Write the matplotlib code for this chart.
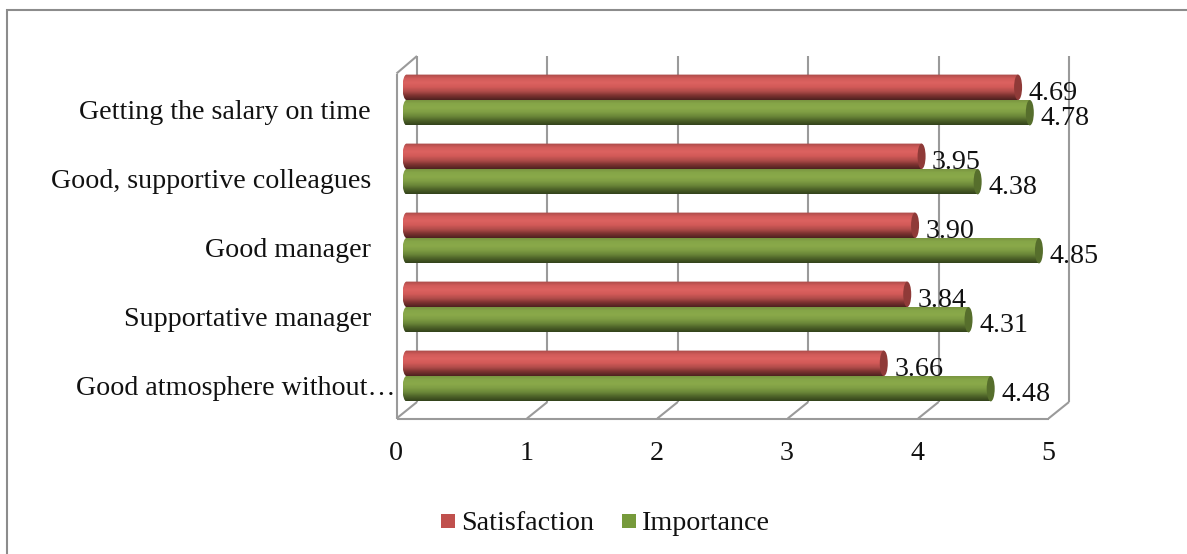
import numpy as np
import matplotlib
matplotlib.use("Agg")
import matplotlib.pyplot as plt
from matplotlib.colors import LinearSegmentedColormap
from matplotlib.patches import Ellipse, Rectangle, PathPatch
from matplotlib.path import Path

W, H = 1187, 554
DPI = 100

categories = ["Good atmosphere without\u2026", "Supportative manager", "Good manager",
              "Good, supportive colleagues", "Getting the salary on time"]
satisfaction = [3.66, 3.84, 3.90, 3.95, 4.69]
importance = [4.48, 4.31, 4.85, 4.38, 4.78]
value_ticks = [0, 1, 2, 3, 4, 5]

plt.rcParams["font.family"] = ["Liberation Serif", "DejaVu Serif"]

fig = plt.figure(figsize=(W / DPI, H / DPI), dpi=DPI, facecolor="white")
ax = fig.add_axes([0, 0, 1, 1])
ax.axis("off")

# Data scales: one value unit and one category step, in pixels.
X_UNIT, Y_UNIT = 130.4, 69.0
X0_PX, Y0_PX = 406.5, 376.0
ax.set_xlim(-X0_PX / X_UNIT, (W - X0_PX) / X_UNIT)
ax.set_ylim((Y0_PX - H) / Y_UNIT, Y0_PX / Y_UNIT)


def px_x(p):
    return (p - X0_PX) / X_UNIT


def px_y(p):
    return (Y0_PX - p) / Y_UNIT


GRID = "#9a9a9a"
FRONT_X = px_x(396.5)
BACK_X = px_x(417.0)
FRONT_BOTTOM, BACK_BOTTOM = px_y(418.5), px_y(402.0)
FRONT_TOP, BACK_TOP = px_y(73.5), px_y(56.0)

# 3-D frame: back-wall gridlines, floor diagonals and the side wall.
frame_kw = dict(color=GRID, lw=1.5, solid_capstyle="butt", zorder=1)
for t in value_ticks:
    ax.plot([BACK_X + t, BACK_X + t], [BACK_BOTTOM, BACK_TOP], **frame_kw)
    ax.plot([FRONT_X + t, BACK_X + t], [FRONT_BOTTOM, BACK_BOTTOM], **frame_kw)
ax.plot([FRONT_X, FRONT_X + 5], [FRONT_BOTTOM, FRONT_BOTTOM], **frame_kw)
ax.plot([FRONT_X, FRONT_X], [FRONT_BOTTOM, FRONT_TOP], **frame_kw)
ax.plot([FRONT_X, BACK_X], [FRONT_TOP, BACK_TOP], **frame_kw)

# Outer chart-area border.
border_kw = dict(color="#8c8c8c", lw=1.5, solid_capstyle="butt", zorder=1)
ax.plot([px_x(7), px_x(7)], [px_y(9), px_y(554)], **border_kw)
ax.plot([px_x(6), px_x(1187)], [px_y(9.5), px_y(9.5)], **border_kw)

RED_STOPS = ["#a84a48", "#d25c5a", "#dc6260", "#d25a58", "#b04c4a", "#7c3230", "#4e2120"]
GREEN_STOPS = ["#76903f", "#86a648", "#8aa94a", "#7f9e44", "#6a8638", "#4c6128", "#33421b"]
RED_CAP, GREEN_CAP = "#8f3a38", "#566e2c"
HALF_H = 12.7 / Y_UNIT
CAP_W = 8.0 / X_UNIT


def cylinder(value, y_low, stops, cap_color):
    """Draw one horizontal cylinder from 0 to value, with y_low as its lower edge."""
    y_high = y_low + 2 * HALF_H
    y_mid = y_low + HALF_H
    cmap = LinearSegmentedColormap.from_list("shade", stops)
    grad = np.linspace(0, 1, 64).reshape(-1, 1)
    im = ax.imshow(grad, cmap=cmap, extent=(-CAP_W / 2, value, y_low, y_high),
                   aspect="auto", origin="upper", interpolation="bilinear", zorder=3)
    # Body outline: rounded left end, straight top and bottom.
    k = 0.5523
    hw = CAP_W / 2
    verts = [(value, y_low), (0, y_low),
             (-k * hw, y_low), (-hw, y_mid - k * HALF_H), (-hw, y_mid),
             (-hw, y_mid + k * HALF_H), (-k * hw, y_high), (0, y_high),
             (value, y_high), (value, y_low)]
    codes = [Path.MOVETO, Path.LINETO, Path.CURVE4, Path.CURVE4, Path.CURVE4,
             Path.CURVE4, Path.CURVE4, Path.CURVE4, Path.LINETO, Path.CLOSEPOLY]
    clip = PathPatch(Path(verts, codes), transform=ax.transData)
    im.set_clip_path(clip)
    ax.add_patch(Ellipse((value, y_mid), CAP_W, 2 * HALF_H, facecolor=cap_color,
                         edgecolor="none", zorder=4))


LABEL_SIZE = 20.2
VALUE_GAP = 6.5 / X_UNIT + CAP_W / 2
for i, cat in enumerate(categories):
    cylinder(satisfaction[i], i + 0.0, RED_STOPS, RED_CAP)
    cylinder(importance[i], i - 2 * HALF_H, GREEN_STOPS, GREEN_CAP)
    ax.text(px_x(371) if i else px_x(396), i - 0.174, cat, ha="right", va="center",
            fontsize=LABEL_SIZE, color="#111111", zorder=6)
    ax.text(satisfaction[i] + VALUE_GAP, i + 0.09, f"{satisfaction[i]:.2f}",
            ha="left", va="center", fontsize=LABEL_SIZE, color="#111111", zorder=6)
    ax.text(importance[i] + VALUE_GAP, i - 0.27, f"{importance[i]:.2f}",
            ha="left", va="center", fontsize=LABEL_SIZE, color="#111111", zorder=6)

for t in value_ticks:
    ax.text(FRONT_X + t - 0.005, px_y(453), str(t), ha="center", va="center",
            fontsize=LABEL_SIZE, color="#111111")

# Legend row with square swatches.
SW = 14 / X_UNIT
for label, color, sw_px, text_px in [("Satisfaction", "#c0504d", 441, 461),
                                     ("Importance", "#769a3b", 622, 642)]:
    ax.add_patch(Rectangle((px_x(sw_px), px_y(528)), SW, 14 / Y_UNIT, facecolor=color,
                           edgecolor="none"))
    ax.text(px_x(text_px), px_y(523), label, ha="left", va="center",
            fontsize=LABEL_SIZE, color="#111111")

ax.set_xlim(-X0_PX / X_UNIT, (W - X0_PX) / X_UNIT)
ax.set_ylim((Y0_PX - H) / Y_UNIT, Y0_PX / Y_UNIT)
fig.savefig("out.png", dpi=DPI, facecolor="white")
